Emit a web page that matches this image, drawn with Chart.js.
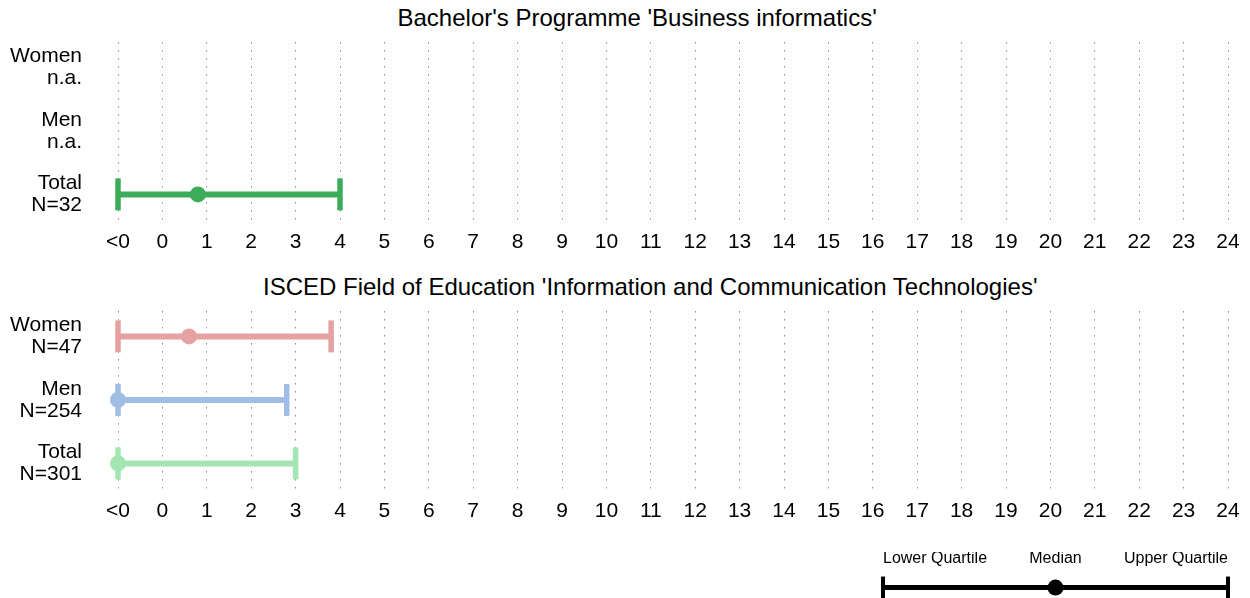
<!DOCTYPE html>
<html lang="en">
<head>
<meta charset="UTF-8">
<title>Quartiles</title>
<script src="https://cdn.jsdelivr.net/npm/chart.js"></script>
<style>
    body { margin: 0; background: #fff; width: 1250px; height: 598px; position: relative; overflow: hidden;
           font-family: "Liberation Sans", Arial, sans-serif; color: #000; }
    .box { position: absolute; }
    .title { position: absolute; font-size: 24px; line-height: 28px; white-space: nowrap; }
</style>
</head>
<body>
    <div class="title" id="title1" style="top:4px;">Bachelor's Programme 'Business informatics'</div>
    <div class="box" style="left:0;top:0;width:1250px;height:265px"><canvas id="topChart"></canvas></div>

    <div class="title" id="title2" style="top:273px;">ISCED Field of Education 'Information and Communication Technologies'</div>
    <div class="box" style="left:0;top:269px;width:1250px;height:265px"><canvas id="bottomChart"></canvas></div>

    <div class="box" style="left:860px;top:530px;width:390px;height:68px"><canvas id="legendChart"></canvas></div>

<script>
// x axis: value -1 stands for "<0"
const xTickLabels = ['<0', '0', '1', '2', '3', '4', '5', '6', '7', '8', '9', '10', '11', '12',
    '13', '14', '15', '16', '17', '18', '19', '20', '21', '22', '23', '24'];
const groups = ['Women', 'Men', 'Total'];

// Bachelor's Programme
const bachelorN = ['n.a.', 'n.a.', 'N=32'];
const bachelorLower = [null, null, -1];
const bachelorMedian = [null, null, 0.8];
const bachelorUpper = [null, null, 4];

// ISCED field
const iscedN = ['N=47', 'N=254', 'N=301'];
const iscedLower = [-1, -1, -1];
const iscedMedian = [0.6, -1, -1];
const iscedUpper = [3.8, 2.8, 3.0];

const legendLabels = ['Lower Quartile', 'Median', 'Upper Quartile'];

const bachelorColors = [null, null, '#3cac5a'];
const iscedColors = ['#e6a2a2', '#a0bde6', '#a3e6b4'];

function placeTitle(id, centerX) {
    const el = document.getElementById(id);
    el.style.left = (centerX - el.offsetWidth / 2) + 'px';
}
placeTitle('title1', 637);
placeTitle('title2', 650);

function buildDatasets(lower, median, upper, colors) {
    const medians = [], caps = [], bars = [];
    groups.forEach((g, i) => {
        if (median[i] === null) return;
        medians.push({
            data: [{ x: median[i], y: i }],
            pointStyle: 'circle', pointRadius: 8, pointBorderWidth: 0,
            pointBackgroundColor: colors[i], pointBorderColor: colors[i],
            clip: false
        });
        caps.push({
            data: [{ x: lower[i], y: i }, { x: upper[i], y: i }],
            pointStyle: 'line', pointRotation: 90, pointRadius: 16, pointBorderWidth: 5.5,
            pointBorderColor: colors[i], pointBackgroundColor: colors[i],
            showLine: false, clip: false
        });
        bars.push({
            data: [{ x: lower[i], y: i }, { x: upper[i], y: i }],
            showLine: true, borderColor: colors[i], borderWidth: 6, pointRadius: 0,
            clip: false
        });
    });
    return [...medians, ...caps, ...bars];
}

function makePanel(canvasId, nLabels, lower, median, upper, colors) {
    return new Chart(document.getElementById(canvasId), {
        type: 'scatter',
        data: { datasets: buildDatasets(lower, median, upper, colors) },
        options: {
            responsive: true,
            maintainAspectRatio: false,
            animation: false,
            events: [],
            layout: { autoPadding: false, padding: { left: 0, right: 22, top: 42, bottom: 0 } },
            plugins: { legend: { display: false }, tooltip: { enabled: false } },
            scales: {
                x: {
                    type: 'linear', min: -1, max: 24,
                    afterBuildTicks: s => { s.ticks = xTickLabels.map((t, i) => ({ value: i - 1 })); },
                    ticks: {
                        callback: v => xTickLabels[Math.round(v) + 1],
                        font: { family: 'Liberation Sans', size: 21 }, color: '#000',
                        padding: 10, maxRotation: 0, autoSkip: false
                    },
                    grid: { color: 'rgba(0,0,0,0.45)', lineWidth: 1, drawTicks: false },
                    border: { display: false, dash: [1.5, 6.5] }
                },
                y: {
                    type: 'linear', min: -0.4, max: 2.4, reverse: true,
                    afterBuildTicks: s => { s.ticks = groups.map((g, i) => ({ value: i })); },
                    afterFit: s => { s.width = 118; s.paddingTop = 0; s.paddingBottom = 0; },
                    ticks: {
                        callback: v => [groups[v], nLabels[v]],
                        font: { family: 'Liberation Sans', size: 21, lineHeight: 1.05 }, color: '#000',
                        padding: 36
                    },
                    grid: { display: false, drawTicks: false },
                    border: { display: false }
                }
            }
        }
    });
}

makePanel('topChart', bachelorN, bachelorLower, bachelorMedian, bachelorUpper, bachelorColors);
makePanel('bottomChart', iscedN, iscedLower, iscedMedian, iscedUpper, iscedColors);

// key: lower quartile, median, upper quartile
new Chart(document.getElementById('legendChart'), {
    type: 'scatter',
    data: {
        datasets: [
            { data: [{ x: 1, y: 0 }], pointStyle: 'circle', pointRadius: 8, pointBorderWidth: 0,
              pointBackgroundColor: '#000', pointBorderColor: '#000', clip: false },
            { data: [{ x: 0, y: 0 }, { x: 2, y: 0 }], pointStyle: 'line', pointRotation: 90,
              pointRadius: 11, pointBorderWidth: 4, pointBorderColor: '#000', showLine: false, clip: false },
            { data: [{ x: 0, y: 0 }, { x: 2, y: 0 }], showLine: true, borderColor: '#000', borderWidth: 5,
              pointRadius: 0, clip: false }
        ]
    },
    options: {
        responsive: true,
        maintainAspectRatio: false,
        animation: false,
        events: [],
        layout: { autoPadding: false, padding: { left: 23, right: 22, top: 22, bottom: 0 } },
        plugins: { legend: { display: false }, tooltip: { enabled: false } },
        scales: {
            x: {
                type: 'linear', position: 'top', min: 0, max: 2,
                afterBuildTicks: s => { s.ticks = legendLabels.map((t, i) => ({ value: i })); },
                ticks: {
                    callback: v => legendLabels[v],
                    font: { family: 'Liberation Sans', size: 16 }, color: '#000',
                    padding: 7, align: 'inner', maxRotation: 0, autoSkip: false
                },
                grid: { display: false, drawTicks: false },
                border: { display: false }
            },
            y: {
                display: false, min: -1, max: 1.2
            }
        }
    }
});
</script>
</body>
</html>
